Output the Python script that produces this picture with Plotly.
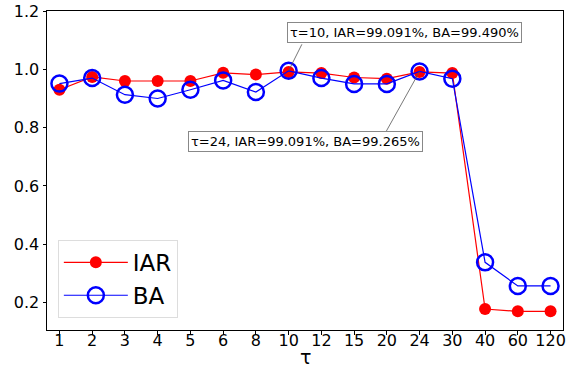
import plotly.graph_objects as go

tau_labels = ["1", "2", "3", "4", "5", "6", "8", "10", "12", "15", "20", "24", "30", "40", "60", "120"]
iar = [0.930, 0.974, 0.960, 0.960, 0.960, 0.988, 0.982, 0.99091, 0.987, 0.972, 0.968, 0.99091, 0.987, 0.178, 0.170, 0.170]
ba = [0.951, 0.970, 0.913, 0.900, 0.930, 0.962, 0.922, 0.99490, 0.970, 0.950, 0.950, 0.99265, 0.968, 0.338, 0.257, 0.257]
y_ticks = [0.2, 0.4, 0.6, 0.8, 1.0, 1.2]

xs = list(range(len(tau_labels)))
font = "DejaVu Sans"

fig = go.Figure()
fig.add_trace(go.Scatter(
    x=xs, y=iar, name="IAR", mode="lines+markers",
    line=dict(color="#ff0000", width=1.2),
    marker=dict(symbol="circle", size=12, color="#ff0000"),
))
fig.add_trace(go.Scatter(
    x=xs, y=ba, name="BA", mode="lines+markers",
    line=dict(color="#0000ff", width=1.2),
    marker=dict(symbol="circle-open", size=16, color="#0000ff", line=dict(width=2.5, color="#0000ff")),
))

i10 = tau_labels.index("10")
i24 = tau_labels.index("24")
ann_font = dict(family=font, size=13, color="black")
annotations = [
    dict(x=i10, y=ba[i10], xref="x", yref="y", text="", showarrow=True,
         ax=14, ay=-28, arrowhead=0, arrowwidth=0.8, arrowcolor="#555555"),
    dict(x=i10, y=ba[i10], xref="x", yref="y",
         text=f"τ={tau_labels[i10]}, IAR={iar[i10]*100:.3f}%, BA={ba[i10]*100:.3f}%",
         showarrow=False, xshift=116, yshift=38, font=ann_font,
         bgcolor="white", bordercolor="#888888", borderwidth=1, borderpad=2),
    dict(x=i24, y=ba[i24], xref="x", yref="y", text="", showarrow=True,
         ax=-34, ay=61, arrowhead=0, arrowwidth=0.8, arrowcolor="#555555"),
    dict(x=i24, y=ba[i24], xref="x", yref="y",
         text=f"τ={tau_labels[i24]}, IAR={iar[i24]*100:.3f}%, BA={ba[i24]*100:.3f}%",
         showarrow=False, xshift=-114, yshift=-70, font=ann_font,
         bgcolor="white", bordercolor="#888888", borderwidth=1, borderpad=2),
    dict(x=0.5, y=-0.085, xref="paper", yref="paper", text="τ", showarrow=False,
         xanchor="center", yanchor="middle", font=dict(family=font, size=19, color="black")),
]

fig.update_layout(
    width=577, height=368,
    margin=dict(l=47, r=14, t=11, b=38),
    plot_bgcolor="white", paper_bgcolor="white",
    font=dict(family=font, size=16, color="black"),
    showlegend=True,
    legend=dict(x=0.021, y=0.038, xanchor="left", yanchor="bottom",
                bgcolor="white", bordercolor="#dddddd", borderwidth=1,
                itemwidth=64,
                font=dict(family=font, size=23), tracegroupgap=4),
    annotations=annotations,
    xaxis=dict(
        range=[-0.38, 15.38], tickmode="array", tickvals=xs, ticktext=tau_labels,
        showline=True, linecolor="black", linewidth=1, mirror=True, automargin=False,
        ticks="outside", ticklen=3.5, tickcolor="black", showgrid=False, zeroline=False,
        tickfont=dict(size=16), ticklabelstandoff=-8,
    ),
    yaxis=dict(
        range=[0.106, 1.2], tickmode="array", tickvals=y_ticks,
        ticktext=[f"{v:.1f}" for v in y_ticks], automargin=False,
        showline=True, linecolor="black", linewidth=1, mirror=True,
        ticks="outside", ticklen=3.5, tickcolor="black", showgrid=False, zeroline=False,
        tickfont=dict(size=16),
    ),
)

fig.write_html("out.html")
